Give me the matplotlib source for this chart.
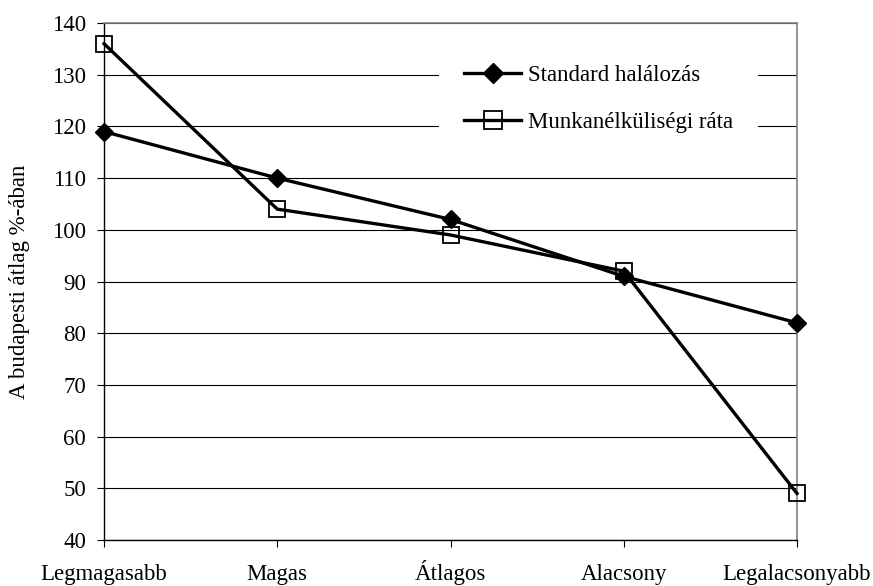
import matplotlib.pyplot as plt

categories = ['Legmagasabb', 'Magas', 'Átlagos', 'Alacsony', 'Legalacsonyabb']
halalozas = [119, 110, 102, 91, 82]
munkanelkuliseg = [136, 104, 99, 92, 49]

plt.rcParams['font.family'] = ['Liberation Serif', 'DejaVu Serif']
plt.rcParams['font.size'] = 16.5

fig = plt.figure(figsize=(8.73, 5.86), dpi=100)
# plot area in pixels: x 104..797, y 23..540
ax = fig.add_axes([104 / 873, 1 - 540 / 586, 693 / 873, 517 / 586])

x = range(len(categories))
ax.plot(x, halalozas, color='black', lw=2.4, marker='D', markersize=9,
        markerfacecolor='black', markeredgecolor='black', label='Standard halálozás',
        zorder=3, clip_on=False)
ax.plot(x, munkanelkuliseg, color='black', lw=2.4, marker='s', markersize=11.5,
        markerfacecolor='none', markeredgecolor='black', markeredgewidth=1.3,
        label='Munkanélküliségi ráta', zorder=3, clip_on=False)

ax.set_xlim(0, 4)
ax.set_ylim(40, 140)
ax.set_yticks(range(40, 141, 10))
ax.set_xticks(list(x))
ax.set_xticklabels(categories)
for lbl in ax.get_xticklabels():
    lbl.set_verticalalignment('baseline')
ax.yaxis.grid(True, color='black', lw=0.8)
ax.set_axisbelow(True)

for s in ['top', 'right']:
    ax.spines[s].set_color('#808080')
    ax.spines[s].set_linewidth(1.2)
for s in ['left', 'bottom']:
    ax.spines[s].set_color('black')
    ax.spines[s].set_linewidth(1)

ax.tick_params(axis='y', direction='out', length=5, width=0.8, pad=8)
ax.tick_params(axis='x', direction='out', length=5, width=0.8, pad=24)
ax.set_ylabel('A budapesti átlag %-ában')
ax.yaxis.set_label_coords(-0.107, 0.5)

leg = ax.legend(loc='center left', bbox_to_anchor=(0.483, 0.853), borderaxespad=0,
                frameon=True, edgecolor='none', facecolor='white', framealpha=1,
                fancybox=False, handlelength=2.5, handletextpad=0.3, labelspacing=1.14,
                borderpad=1.1, markerscale=1.1)

fig.savefig('out.png', dpi=100)
